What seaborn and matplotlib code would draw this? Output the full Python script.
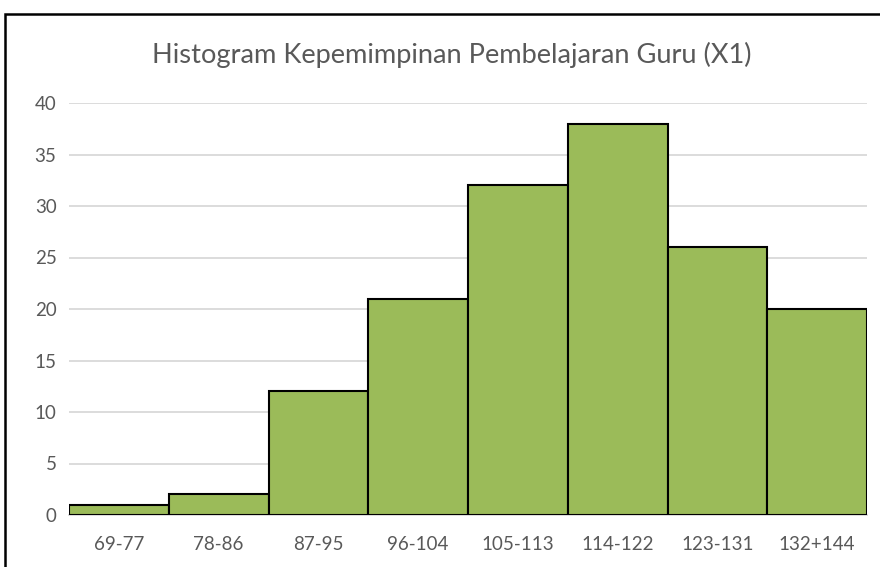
import matplotlib
matplotlib.use("Agg")
import matplotlib.pyplot as plt
import seaborn as sns
import pandas as pd
from matplotlib.patches import Rectangle

categories = ["69-77", "78-86", "87-95", "96-104", "105-113", "114-122", "123-131", "132+144"]
counts = [1, 2, 12, 21, 32, 38, 26, 20]
title = "Histogram Kepemimpinan Pembelajaran Guru (X1)"

sns.set_theme(style="white")
plt.rcParams['font.family'] = ['Lato', 'DejaVu Sans']

df = pd.DataFrame({"kelas": categories, "frekuensi": counts})

fig = plt.figure(figsize=(8.8, 5.67), dpi=100)
ax = fig.add_axes([69/880, 52/567, (867-69)/880, 412/567])

sns.barplot(data=df, x="kelas", y="frekuensi", color="#9BBB59", saturation=1,
            width=1.0, edgecolor="black", linewidth=1.5, ax=ax, zorder=3)

ax.set_ylim(0, 40)
ax.set_xlim(-0.5, len(categories) - 0.5)
ax.set_yticks(range(0, 41, 5))
ax.yaxis.grid(True, color="#D9D9D9", linewidth=1.3, zorder=0)
ax.set_axisbelow(True)
for s in ["top", "right", "left"]:
    ax.spines[s].set_visible(False)
ax.spines["bottom"].set_color("#D9D9D9")
ax.spines["bottom"].set_linewidth(1.3)
ax.set_xlabel("")
ax.set_ylabel("")
ax.tick_params(axis="both", length=0, colors="#595959", labelsize=13.5)
ax.tick_params(axis="y", pad=9)
ax.tick_params(axis="x", pad=15)

fig.text(452/880, 1 - 55/567, title, ha="center", va="center", fontsize=19.6, color="#595959")

fig.patches.append(Rectangle((5/880, -0.1), 1.2, 1 - 14/567 + 0.1, transform=fig.transFigure,
                             fill=False, edgecolor="black", linewidth=1.8, clip_on=False))

fig.savefig("out.png", dpi=100)
